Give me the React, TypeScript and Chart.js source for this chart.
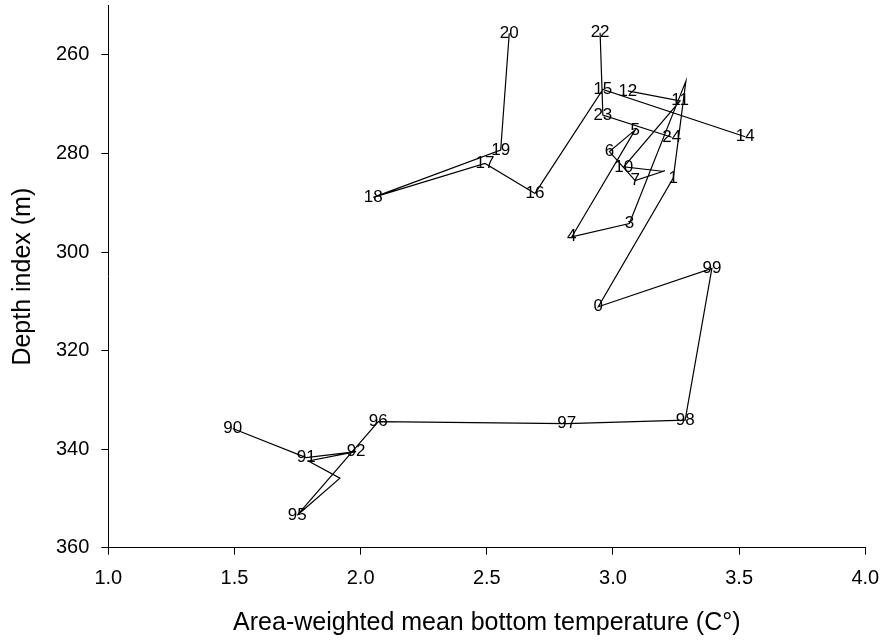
import React, { useEffect, useRef } from 'react';
import { Chart, registerables } from 'chart.js';

Chart.register(...registerables);

// Survey year codes (two-digit), in path order
const yearCodes = [
  '90', '91', '92', '93', '94', '95', '96', '97', '98', '99',
  '0', '1', '2', '3', '4', '5', '6', '7', '8', '9',
  '10', '11', '12', '13', '14', '15', '16', '17', '18', '19',
  '20', '21', '22', '23', '24',
];

// Text printed at each vertex ('' = unlabeled vertex)
const pointLabels = [
  '90', '91', '92', '', '', '95', '96', '97', '98', '99',
  '0', '1', '', '3', '4', '5', '6', '7', '', '',
  '10', '11', '12', '', '14', '15', '16', '17', '18', '19',
  '20', '', '22', '23', '24',
];

// Area-weighted mean bottom temperature (C°); null = no survey
const temperature = [
  1.493, 1.784, 1.982, 1.793, 1.918, 1.749, 2.07, 2.817, 3.286, 3.392,
  2.942, 3.239, 3.289, 3.065, 2.837, 3.088, 2.986, 3.088, 3.206, 3.195,
  3.043, 3.266, 3.059, null, 3.524, 2.96, 2.691, 2.493, 2.05, 2.555,
  2.589, null, 2.949, 2.96, 3.233,
];

// Depth index (m); null = no survey
const depthIndex = [
  335.8, 341.7, 340.5, 342.4, 345.9, 353.4, 334.4, 334.8, 334.1, 303.3,
  311.1, 285.0, 265.3, 294.2, 296.9, 275.2, 279.6, 285.5, 283.5, 283.6,
  282.7, 269.3, 267.3, null, 276.6, 267.0, 288.1, 282.0, 288.9, 279.3,
  255.6, null, 255.5, 272.2, 276.7,
];

const xTicks = [1.0, 1.5, 2.0, 2.5, 3.0, 3.5, 4.0];
const yTicks = [260, 280, 300, 320, 340, 360];

const FONT = '"Liberation Sans", Arial, Helvetica, sans-serif';

const labelPlugin = {
  id: 'yearLabels',
  afterDatasetsDraw(chart: any) {
    const meta = chart.getDatasetMeta(0);
    const ctx = chart.ctx;
    ctx.save();
    ctx.font = `17px ${FONT}`;
    ctx.fillStyle = '#000';
    ctx.textAlign = 'center';
    ctx.textBaseline = 'middle';
    meta.data.forEach((pt: any, i: number) => {
      const t = pointLabels[i];
      if (!t || pt.skip) return;
      ctx.fillText(t, pt.x, pt.y);
    });
    ctx.restore();
  },
};

function zeroPad(s: any) {
  s.paddingTop = 0;
  s.paddingBottom = 0;
  s.paddingLeft = 0;
  s.paddingRight = 0;
}

export default function App() {
  const canvasRef = useRef<HTMLCanvasElement | null>(null);

  useEffect(() => {
    if (!canvasRef.current) return;
    const data = temperature.map((t, i) => ({ x: t, y: depthIndex[i] }));
    const chart = new Chart(canvasRef.current, {
      type: 'line',
      data: {
        labels: yearCodes,
        datasets: [
          {
            data: data as any,
            borderColor: '#000',
            borderWidth: 1.2,
            pointRadius: 0,
            pointHoverRadius: 0,
            tension: 0,
            fill: false,
            spanGaps: false,
          },
        ],
      },
      options: {
        responsive: false,
        animation: false,
        events: [],
        layout: { padding: { left: 0, right: 15.7, top: 5.7, bottom: 0 } },
        plugins: {
          legend: { display: false },
          tooltip: { enabled: false },
        },
        scales: {
          x: {
            type: 'linear',
            min: 1,
            max: 4,
            afterBuildTicks: (s: any) => {
              s.ticks = xTicks.map((v) => ({ value: v }));
            },
            afterFit: (s: any) => {
              s.height = 95.3;
              zeroPad(s);
            },
            ticks: {
              callback: (v: any) => Number(v).toFixed(1),
              color: '#000',
              font: { family: FONT, size: 20 },
              padding: 12,
              maxRotation: 0,
              autoSkip: false,
            },
            grid: {
              display: true,
              drawOnChartArea: false,
              drawTicks: true,
              tickLength: 7,
              color: '#000',
              lineWidth: 1,
            },
            border: { display: true, color: '#000', width: 1 },
            title: {
              display: true,
              text: 'Area-weighted mean bottom temperature (C°)',
              color: '#000',
              font: { family: FONT, size: 25 },
              padding: { top: 0, bottom: 5 },
            },
          },
          y: {
            type: 'linear',
            reverse: true,
            min: 250,
            max: 360,
            afterBuildTicks: (s: any) => {
              s.ticks = yTicks.map((v) => ({ value: v }));
            },
            afterFit: (s: any) => {
              s.width = 108.3;
              zeroPad(s);
            },
            ticks: {
              callback: (v: any) => String(v),
              color: '#000',
              font: { family: FONT, size: 20 },
              padding: 12,
              autoSkip: false,
            },
            grid: {
              display: true,
              drawOnChartArea: false,
              drawTicks: true,
              tickLength: 7,
              color: '#000',
              lineWidth: 1,
            },
            border: { display: true, color: '#000', width: 1 },
            title: {
              display: true,
              text: 'Depth index (m)',
              color: '#000',
              font: { family: FONT, size: 25 },
              padding: { top: 8, bottom: 0 },
            },
          },
        },
      } as any,
      plugins: [labelPlugin],
    });
    return () => chart.destroy();
  }, []);

  return (
    <div style={{ position: 'fixed', left: 0, top: 0, width: 881, height: 643, background: '#fff' }}>
      <canvas ref={canvasRef} width={881} height={643} style={{ display: 'block', width: 881, height: 643 }} />
    </div>
  );
}
